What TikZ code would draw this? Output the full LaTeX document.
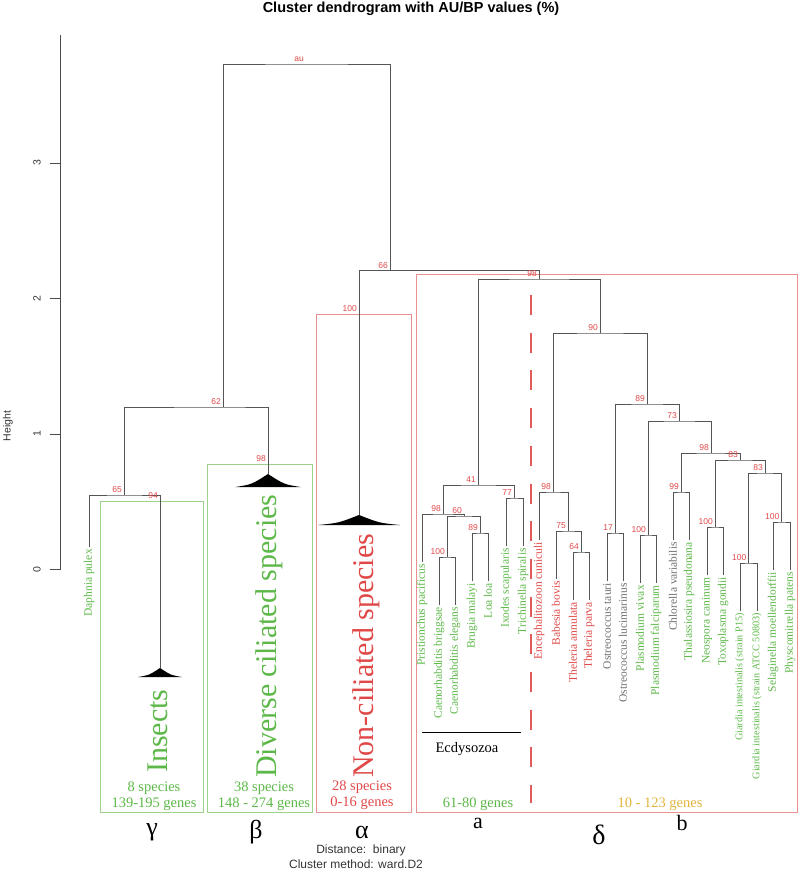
\documentclass[tikz,border=0pt]{standalone}
\usepackage{fontspec}
\setmainfont{Liberation Serif}
\setsansfont{Liberation Sans}
\usetikzlibrary{calc}
\definecolor{cgreen}{HTML}{5CB848}
\definecolor{cgreenbox}{HTML}{9CD28C}
\definecolor{cred}{HTML}{E04848}
\definecolor{credbox}{HTML}{EA9090}
\definecolor{cbranch}{HTML}{555555}
\definecolor{cgreyleaf}{HTML}{707070}
\definecolor{cgold}{HTML}{E2B43C}
\tikzset{
  branch/.style={draw=cbranch, line width=1pt},
  axisline/.style={draw=black!70, line width=0.9pt},
  gbox/.style={draw=cgreenbox, line width=1pt},
  rbox/.style={draw=credbox, line width=1pt},
  leaf/.style={rotate=90, anchor=east, inner sep=2pt, font=\fontsize{11.5}{12}\selectfont},
  gleaf/.style={leaf, text=cgreen},
  rleaf/.style={leaf, text=cred},
  kleaf/.style={leaf, text=cgreyleaf},
  sleaf/.style={gleaf, font=\fontsize{10.2}{11}\selectfont},
  pv/.style={font=\sffamily\fontsize{8.5}{9}\selectfont, text=cred, inner sep=0pt, anchor=south east},
  bigname/.style={rotate=90, anchor=base west, font=\fontsize{30}{30}\selectfont, inner sep=0pt},
  count/.style={font=\fontsize{14.5}{16}\selectfont, align=center, inner sep=0pt},
  greek/.style={font=\fontsize{26}{26}\selectfont, inner sep=0pt},
  latin/.style={font=\fontsize{22}{22}\selectfont, inner sep=0pt},
  cut/.style={draw=cred!90, line width=2.6pt, dash pattern=on 20pt off 17.7pt},
  tiny/.style={font=\sffamily\fontsize{10.5}{11}\selectfont, text=black!80, inner sep=0pt},
}
% collapsed cluster: apex x, apex y, base y, half width
\newcommand{\collapsed}[4]{%
  \fill[black] (#1,#2) .. controls ({#1-0.5*#4},{#2+0.8*(#3-#2)}) .. ({#1-#4},#3)
    -- ({#1+#4},#3) .. controls ({#1+0.5*#4},{#2+0.8*(#3-#2)}) .. cycle;}
\begin{document}
\begin{tikzpicture}[x=1pt,y=-1pt]
\useasboundingbox (0,0) rectangle (800,871);
\node[font=\sffamily\bfseries\fontsize{14.5}{15}\selectfont] (title) at (411,9) {Cluster dendrogram with AU/BP values (\%)};

% axis
\draw[axisline] (60,35) -- (60,569.5);
\foreach \v/\y in {0/569.5,1/434,2/298.5,3/163} {
  \draw[axisline] (50,\y) -- (60,\y);
  \node[tiny, rotate=90] at (37,\y) {\v};
}
\node[tiny, rotate=90] (ylab) at (8,426) {Height};

% boxes
\draw[gbox] (100,501) rectangle (203,812);
\draw[gbox] (207,464) rectangle (312,812);
\draw[rbox] (316,314) rectangle (411,812);
\draw[rbox] (416,274) rectangle (797,812);
\draw[cut] (531,295) -- (531,803);

% merge points
\coordinate (root) at (306,64);
\coordinate (n62) at (223,407);
\coordinate (n65) at (124,495);
\coordinate (n66) at (390,270.7);
\coordinate (n98d) at (539,279);
\coordinate (n41) at (478,485);
\coordinate (n98e) at (443,514);
\coordinate (n60) at (464,516);
\coordinate (n100c) at (447,557);
\coordinate (n89e) at (480,533);
\coordinate (n77) at (514,498);
\coordinate (n90) at (600,333);
\coordinate (n98a) at (553,492);
\coordinate (n75) at (568,531);
\coordinate (n64) at (581,552);
\coordinate (n89) at (647,404);
\coordinate (n17) at (615,533);
\coordinate (n73) at (679,421);
\coordinate (n100p) at (648,535);
\coordinate (n98b) at (711,453);
\coordinate (n99) at (681,492);
\coordinate (n83a) at (740,460);
\coordinate (n100n) at (715,527);
\coordinate (n83b) at (765,473);
\coordinate (n100g) at (748.5,563);
\coordinate (n100s) at (781.5,522);
% collapsed clusters
\coordinate (tins) at (160,668);
\coordinate (tdiv) at (268,474);
\coordinate (tnon) at (359,515);
\coordinate (kins) at (160,501);
\coordinate (kdiv) at (268,464);
\coordinate (knon) at (359,314);
\collapsed{160}{668}{677}{22}
\collapsed{268}{474}{487}{32.5}
\collapsed{359}{515}{525}{41}

% leaves
\node[gleaf] (daph) at (89,547) {Daphnia pulex};
\node[gleaf] (pri) at (422,562) {Pristionchus pacificus};
\node[gleaf] (cbr) at (439,605) {Caenorhabditis briggsae};
\node[gleaf] (cel) at (455,605) {Caenorhabditis elegans};
\node[gleaf] (bma) at (472,581) {Brugia malayi};
\node[gleaf] (loa) at (488,581) {Loa loa};
\node[gleaf] (ixo) at (506,546) {Ixodes scapularis};
\node[gleaf] (tri) at (523,546) {Trichinella spiralis};
\node[rleaf] (enc) at (539,540) {Encephalitozoon cuniculi};
\node[rleaf] (bab) at (556,579) {Babesia bovis};
\node[rleaf] (tan) at (573,600) {Theleria annulata};
\node[rleaf] (tpa) at (589,600) {Theleria parva};
\node[kleaf] (ota) at (607,581) {Ostreococcus tauri};
\node[kleaf] (olu) at (623,581) {Ostreococcus lucimarinus};
\node[gleaf] (pvi) at (640,583) {Plasmodium vivax};
\node[gleaf] (pfa) at (656,583) {Plasmodium falciparum};
\node[kleaf] (chl) at (673,540) {Chlorella variabilis};
\node[gleaf] (tha) at (689,540) {Thalassiosira pseudonana};
\node[gleaf] (neo) at (707,575) {Neospora caninum};
\node[gleaf] (tox) at (723,575) {Toxoplasma gondii};
\node[sleaf] (gp) at (740,611) {Giardia intestinalis (strain P15)};
\node[sleaf] (ga) at (757,611) {Giardia intestinalis (strain ATCC 50803)};
\node[gleaf] (sel) at (773,570) {Selaginella moellendorffii};
\node[gleaf] (phy) at (790,570) {Physcomitrella patens};

% branches
\draw[branch] (n62) |- (root) -| (n66);
\draw[branch] (n65) |- (n62) -| (tdiv);
\draw[branch] (daph.east) |- (n65) -| (tins);
\draw[branch] (tnon) |- (n66) -| (n98d);
\draw[branch] (n41) |- (n98d) -| (n90);
\draw[branch] (n98e) |- (n41) -| (n77);
\draw[branch] (pri.east) |- (n98e) -| (n60);
\draw[branch] (n100c) |- (n60) -| (n89e);
\draw[branch] (cbr.east) |- (n100c) -| (cel.east);
\draw[branch] (bma.east) |- (n89e) -| (loa.east);
\draw[branch] (ixo.east) |- (n77) -| (tri.east);
\draw[branch] (n98a) |- (n90) -| (n89);
\draw[branch] (enc.east) |- (n98a) -| (n75);
\draw[branch] (bab.east) |- (n75) -| (n64);
\draw[branch] (tan.east) |- (n64) -| (tpa.east);
\draw[branch] (n17) |- (n89) -| (n73);
\draw[branch] (ota.east) |- (n17) -| (olu.east);
\draw[branch] (n100p) |- (n73) -| (n98b);
\draw[branch] (pvi.east) |- (n100p) -| (pfa.east);
\draw[branch] (n99) |- (n98b) -| (n83a);
\draw[branch] (chl.east) |- (n99) -| (tha.east);
\draw[branch] (n100n) |- (n83a) -| (n83b);
\draw[branch] (neo.east) |- (n100n) -| (tox.east);
\draw[branch] (n100g) |- (n83b) -| (n100s);
\draw[branch] (gp.east) |- (n100g) -| (ga.east);
\draw[branch] (sel.east) |- (n100s) -| (phy.east);

% AU values
\foreach \m/\v in {root/au,n62/62,n65/65,kins/94,kdiv/98,knon/100,n66/66,n98d/98,n41/41,
  n98e/98,n60/60,n100c/100,n89e/89,n77/77,n90/90,n98a/98,n75/75,n64/64,n89/89,n17/17,
  n73/73,n100p/100,n98b/98,n99/99,n83a/83,n100n/100,n83b/83,n100g/100,n100s/100}
  \node[pv] at ($(\m)+(-2,-2)$) {\v};

% cluster names
\node[bigname, text=cgreen] (ins) at (167,773) {Insects};
\node[bigname, text=cgreen] (div) at (276,778) {Diverse ciliated species};
\node[bigname, text=cred] (non) at (373,778) {Non-ciliated species};
\node[count, text=cgreen] (cins) at (154,796) {8 species\\139-195 genes};
\node[count, text=cgreen] (cdiv) at (264,796) {38 species\\148 - 274 genes};
\node[count, text=cred] (cnon) at (362,795) {28 species\\0-16 genes};
\node[count, text=cgreen] (ca) at (478,804) {61-80 genes};
\node[count, text=cgold] (cb) at (660,804) {10 - 123 genes};
\draw[black, line width=0.9pt] (422,732) -- (521,732);
\node[count] (ecd) at (467,749) {Ecdysozoa};

% group letters
\node[greek] (gam) at (152,832) {γ};
\node[greek] (bet) at (256,832) {β};
\node[greek] (alp) at (362,832) {α};
\node[greek, font=\fontsize{28}{28}\selectfont] (del) at (599,835) {δ};
\node[latin] (la) at (478,823) {a};
\node[latin] (lb) at (682,823) {b};

\node[tiny, font=\sffamily\fontsize{12}{12}\selectfont] (dist) at (361,850) {Distance:\ \ binary};
\node[tiny, font=\sffamily\fontsize{12}{12}\selectfont] (meth) at (356,864) {Cluster method: ward.D2};
\end{tikzpicture}
\end{document}
